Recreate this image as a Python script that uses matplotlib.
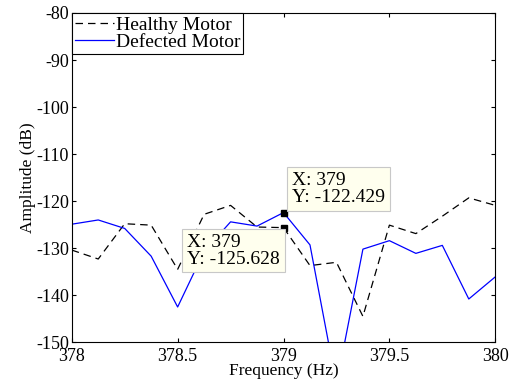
import numpy as np
import matplotlib.pyplot as plt

plt.rcParams['font.family'] = ['Liberation Serif', 'DejaVu Serif']
plt.rcParams['axes.unicode_minus'] = False

# Spectrum around the 379 Hz component, 0.125 Hz resolution
freq = [378.0, 378.125, 378.25, 378.375, 378.5, 378.625, 378.75, 378.875, 379.0,
        379.125, 379.25, 379.375, 379.5, 379.625, 379.75, 379.875, 380.0]
healthy = [-130.4, -132.3, -124.8, -125.1, -134.5, -122.8, -120.9, -125.5, -125.628,
           -133.7, -133.0, -144.5, -125.1, -126.9, -123.2, -119.3, -120.9]
defected = [-124.9, -124.0, -125.8, -131.7, -142.5, -130.7, -124.4, -125.3, -122.429,
            -129.3, -159.0, -130.2, -128.4, -131.1, -129.4, -140.8, -136.1]

fig = plt.figure(figsize=(5.09, 3.82), dpi=100)
ax = fig.add_axes([0.141, 0.104, 0.832, 0.862])

ax.plot(freq, healthy, 'k--', lw=0.9, dashes=(6, 4), label='Healthy Motor')
ax.plot(freq, defected, color='#0000ff', lw=0.9, label='Defected Motor')

ax.set_xlim(378, 380)
ax.set_ylim(-150, -80)
ax.set_xticks([378, 378.5, 379, 379.5, 380])
ax.set_xticklabels(['378', '378.5', '379', '379.5', '380'])
ax.set_yticks(np.arange(-150, -79, 10))
ax.tick_params(direction='in', top=True, right=True, labelsize=13, length=3, pad=2)
ax.tick_params(axis='x', pad=4)
for s in ax.spines.values():
    s.set_linewidth(0.8)

ax.set_xlabel('Frequency (Hz)', fontsize=12.5, labelpad=-1)
ax.set_ylabel('Amplitude (dB)', fontsize=12.5, labelpad=0)

leg = ax.legend(loc='upper left', fontsize=14, fancybox=False, framealpha=1,
                edgecolor='black', borderaxespad=0, borderpad=0.15,
                handlelength=2.0, handletextpad=0.1, labelspacing=0.0)
leg.get_frame().set_linewidth(0.8)

# data tips at 379 Hz
i = freq.index(379.0)
tip = dict(boxstyle='square,pad=0.25', fc='#ffffee', ec='#c8c8c8', lw=0.8)
for y, (tx, ty) in [(defected[i], (379.04, -117.4)), (healthy[i], (378.545, -130.5))]:
    ax.plot(freq[i], y, 's', color='black', ms=4, zorder=5)
    ax.text(tx, ty, 'X: %g\nY: %.3f' % (freq[i], y), fontsize=14,
            va='center', ha='left', linespacing=1.0, bbox=tip, zorder=6)

fig.savefig('out.png', dpi=100)
